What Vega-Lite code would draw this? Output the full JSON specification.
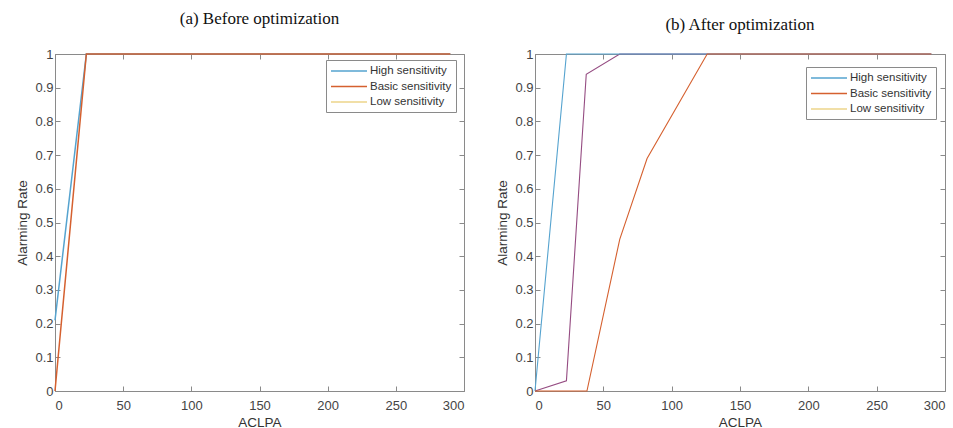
{
  "$schema": "https://vega.github.io/schema/vega-lite/v6.json",
  "padding": {"left": 15, "top": 9, "right": 2, "bottom": 0},
  "background": "white",
  "config": {
    "view": {"stroke": "#8a8a8a", "strokeWidth": 1},
    "axis": {
      "grid": false,
      "domainColor": "#8a8a8a",
      "tickColor": "#8a8a8a",
      "tickSize": -5,
      "labelColor": "#444444",
      "labelFont": "Liberation Sans",
      "labelFontSize": 13,
      "titleFont": "Liberation Sans",
      "titleFontSize": 13.5,
      "titleFontWeight": "normal",
      "titleColor": "#333333"
    },
    "axisX": {"labelPadding": 13, "titlePadding": 3},
    "axisY": {"labelPadding": 7, "titlePadding": 5},
    "legend": {
      "labelFont": "Liberation Sans",
      "labelFontSize": 11.5,
      "labelColor": "#333333",
      "strokeColor": "#8a8a8a",
      "fillColor": "white",
      "padding": 4,
      "symbolType": "M-1,0L5,0",
      "symbolSize": 144,
      "symbolStrokeWidth": 1.6,
      "labelOffset": 26,
      "rowPadding": 2.5
    },
    "title": {"font": "Liberation Serif", "fontSize": 17, "fontWeight": "normal", "color": "#111111"}
  },
  "datasets": {
    "before": [
      {"series": "High sensitivity", "ACLPA": 0, "rate": 0.21},
      {"series": "High sensitivity", "ACLPA": 23, "rate": 1},
      {"series": "High sensitivity", "ACLPA": 290, "rate": 1},
      {"series": "Basic sensitivity", "ACLPA": 0, "rate": 0},
      {"series": "Basic sensitivity", "ACLPA": 23, "rate": 1},
      {"series": "Basic sensitivity", "ACLPA": 290, "rate": 1}
    ],
    "after": [
      {"series": "Unlabeled", "ACLPA": 0, "rate": 0},
      {"series": "Unlabeled", "ACLPA": 23, "rate": 0.03},
      {"series": "Unlabeled", "ACLPA": 37.5, "rate": 0.94},
      {"series": "Unlabeled", "ACLPA": 62, "rate": 1},
      {"series": "Unlabeled", "ACLPA": 290, "rate": 1},
      {"series": "High sensitivity", "ACLPA": 0, "rate": 0},
      {"series": "High sensitivity", "ACLPA": 23, "rate": 1},
      {"series": "High sensitivity", "ACLPA": 290, "rate": 1},
      {"series": "Basic sensitivity", "ACLPA": 0, "rate": 0},
      {"series": "Basic sensitivity", "ACLPA": 38, "rate": 0},
      {"series": "Basic sensitivity", "ACLPA": 62, "rate": 0.45},
      {"series": "Basic sensitivity", "ACLPA": 82, "rate": 0.69},
      {"series": "Basic sensitivity", "ACLPA": 126, "rate": 1},
      {"series": "Basic sensitivity", "ACLPA": 290, "rate": 1}
    ]
  },
  "hconcat": [
    {
      "title": {"text": "(a) Before optimization", "offset": 20},
      "width": 409,
      "height": 337,
      "data": {"name": "before"},
      "layer": [
        {
          "mark": {"type": "line", "strokeWidth": 1.5},
          "encoding": {
            "x": {"field": "ACLPA", "type": "quantitative", "scale": {"domain": [0, 300], "nice": false}, "axis": {"title": "ACLPA", "tickCount": 6}},
            "y": {"field": "rate", "type": "quantitative", "scale": {"domain": [0, 1], "nice": false}, "axis": {"title": "Alarming Rate", "tickCount": 10, "format": "~g"}},
            "color": {"field": "series", "type": "nominal", "sort": null,
              "scale": {"domain": ["High sensitivity", "Basic sensitivity", "Low sensitivity", "Unlabeled"], "range": ["#55a3cf", "#d5602f", "#ecd48a", "#954c82"]},
              "legend": {"title": null, "orient": "none", "legendX": 271, "legendY": 6, "values": ["High sensitivity", "Basic sensitivity", "Low sensitivity"]}}
          }
        },
        {
          "mark": {"type": "line", "opacity": 0},
          "encoding": {
            "x": {"field": "ACLPA", "type": "quantitative", "axis": {"orient": "top", "labels": false, "title": null, "tickCount": 6, "domain": false}},
            "y": {"field": "rate", "type": "quantitative", "axis": {"orient": "right", "labels": false, "title": null, "tickCount": 10, "domain": false}}
          }
        }
      ],
      "resolve": {"axis": {"x": "independent", "y": "independent"}}
    },
    {
      "title": {"text": "(b) After optimization", "offset": 14},
      "width": 410,
      "height": 337,
      "data": {"name": "after"},
      "layer": [
        {
          "mark": {"type": "line", "strokeWidth": 1.1},
          "encoding": {
            "x": {"field": "ACLPA", "type": "quantitative", "scale": {"domain": [0, 300], "nice": false}, "axis": {"title": "ACLPA", "tickCount": 6}},
            "y": {"field": "rate", "type": "quantitative", "scale": {"domain": [0, 1], "nice": false}, "axis": {"title": "Alarming Rate", "tickCount": 10, "format": "~g"}},
            "color": {"field": "series", "type": "nominal", "sort": null,
              "scale": {"domain": ["High sensitivity", "Basic sensitivity", "Low sensitivity", "Unlabeled"], "range": ["#4c9dcc", "#e48a57", "#ecd48a", "#954c82"]},
              "legend": {"title": null, "orient": "none", "legendX": 271, "legendY": 13, "values": ["High sensitivity", "Basic sensitivity", "Low sensitivity"]}}
          }
        },
        {
          "mark": {"type": "line", "opacity": 0},
          "encoding": {
            "x": {"field": "ACLPA", "type": "quantitative", "axis": {"orient": "top", "labels": false, "title": null, "tickCount": 6, "domain": false}},
            "y": {"field": "rate", "type": "quantitative", "axis": {"orient": "right", "labels": false, "title": null, "tickCount": 10, "domain": false}}
          }
        }
      ],
      "resolve": {"axis": {"x": "independent", "y": "independent"}}
    }
  ],
  "spacing": 30,
  "resolve": {"legend": {"color": "independent"}}
}
